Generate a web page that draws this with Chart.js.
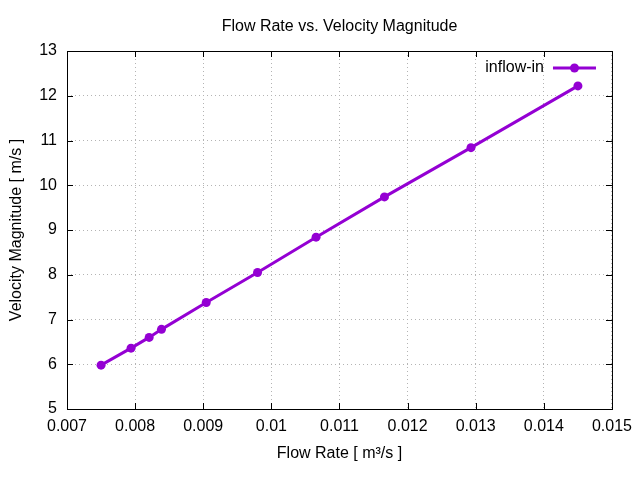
<!DOCTYPE html>
<html>
<head>
<meta charset="utf-8">
<script src="https://cdn.jsdelivr.net/npm/chart.js@4"></script>
<style>
  body { margin: 0; background: #fff; }
  #wrap { width: 640px; height: 480px; }
</style>
</head>
<body>
<div id="wrap"><canvas id="flowChart" width="640" height="480"></canvas></div>
<script>
const SERIES_LABEL = "inflow-in";
const flowRate = [0.0075, 0.00794, 0.008206, 0.008387, 0.009044, 0.009797, 0.010656, 0.01166, 0.01293, 0.0145];
const velocity = [5.98, 6.36, 6.60, 6.78, 7.38, 8.05, 8.84, 9.74, 10.84, 12.22];
const xTicks = [0.007, 0.008, 0.009, 0.010, 0.011, 0.012, 0.013, 0.014, 0.015];
const yTicks = [5, 6, 7, 8, 9, 10, 11, 12, 13];

const LINE_COLOR = "#9400d3";
const FONT = "Liberation Sans, Arial, sans-serif";
const FONT_SIZE = 16;

function fmtTick(v) {
  return String(Number(v.toFixed(3)));
}

// gnuplot-like frame, inward ticks, title and key
const gnuplotDecor = {
  id: "gnuplotDecor",
  afterDraw(chart) {
    const { ctx, chartArea: a, scales } = chart;
    ctx.save();
    ctx.strokeStyle = "#000";
    ctx.lineWidth = 1;
    ctx.strokeRect(a.left + 0.5, a.top + 0.5, a.right - a.left, a.bottom - a.top);

    const len = 6;
    ctx.beginPath();
    xTicks.forEach((t) => {
      const px = Math.round(scales.x.getPixelForValue(t)) + 0.5;
      ctx.moveTo(px, a.bottom);
      ctx.lineTo(px, a.bottom - len);
      ctx.moveTo(px, a.top);
      ctx.lineTo(px, a.top + len);
    });
    yTicks.forEach((t) => {
      const py = Math.round(scales.y.getPixelForValue(t)) + 0.5;
      ctx.moveTo(a.left, py);
      ctx.lineTo(a.left + len, py);
      ctx.moveTo(a.right, py);
      ctx.lineTo(a.right - len, py);
    });
    ctx.stroke();

    // title
    ctx.fillStyle = "#000";
    ctx.font = FONT_SIZE + "px " + FONT;
    ctx.textAlign = "center";
    ctx.textBaseline = "middle";
    ctx.fillText("Flow Rate vs. Velocity Magnitude", (a.left + a.right) / 2, 27);

    // key
    const keyY = a.top + 17;
    const sampleEnd = a.right - 16;
    const sampleStart = sampleEnd - 43;
    ctx.textAlign = "right";
    ctx.fillText(SERIES_LABEL, sampleStart - 9, keyY);
    ctx.strokeStyle = LINE_COLOR;
    ctx.lineWidth = 3;
    ctx.beginPath();
    ctx.moveTo(sampleStart, keyY);
    ctx.lineTo(sampleEnd, keyY);
    ctx.stroke();
    ctx.fillStyle = LINE_COLOR;
    ctx.beginPath();
    ctx.arc((sampleStart + sampleEnd) / 2, keyY, 4.5, 0, Math.PI * 2);
    ctx.fill();
    ctx.restore();
  },
};

const points = flowRate.map((x, i) => ({ x, y: velocity[i] }));

new Chart(document.getElementById("flowChart"), {
  type: "scatter",
  data: {
    datasets: [
      {
        label: SERIES_LABEL,
        data: points,
        showLine: true,
        borderColor: LINE_COLOR,
        backgroundColor: LINE_COLOR,
        borderWidth: 3,
        pointRadius: 4.5,
        pointBorderWidth: 0,
        pointBackgroundColor: LINE_COLOR,
      },
    ],
  },
  options: {
    responsive: false,
    animation: false,
    devicePixelRatio: 1,
    layout: { padding: { left: 0, top: 51, right: 27, bottom: 0 } },
    plugins: {
      legend: { display: false },
      title: { display: false },
      tooltip: { enabled: false },
    },
    scales: {
      x: {
        type: "linear",
        min: 0.007,
        max: 0.015,
        afterBuildTicks: (scale) => {
          scale.ticks = xTicks.map((v) => ({ value: v }));
        },
        afterFit: (scale) => {
          scale.height = 71;
        },
        ticks: {
          color: "#000",
          padding: 8,
          maxRotation: 0,
          font: { family: FONT, size: FONT_SIZE },
          callback: (v) => fmtTick(v),
        },
        grid: { color: "#b4b4b4", lineWidth: 1, drawTicks: false },
        border: { display: false, dash: [1, 3] },
        title: {
          display: true,
          text: "Flow Rate [ m³/s ]",
          color: "#000",
          font: { family: FONT, size: FONT_SIZE },
          padding: { top: 6, bottom: 16.5 },
        },
      },
      y: {
        type: "linear",
        min: 5,
        max: 13,
        afterBuildTicks: (scale) => {
          scale.ticks = yTicks.map((v) => ({ value: v }));
        },
        afterFit: (scale) => {
          scale.width = 67;
        },
        ticks: {
          color: "#000",
          padding: 10,
          font: { family: FONT, size: FONT_SIZE },
          callback: (v) => String(v),
        },
        grid: { color: "#b4b4b4", lineWidth: 1, drawTicks: false },
        border: { display: false, dash: [1, 3] },
        title: {
          display: true,
          text: "Velocity Magnitude [ m/s ]",
          color: "#000",
          font: { family: FONT, size: FONT_SIZE },
          padding: { top: 6.5, bottom: 0 },
        },
      },
    },
  },
  plugins: [gnuplotDecor],
});
</script>
</body>
</html>
